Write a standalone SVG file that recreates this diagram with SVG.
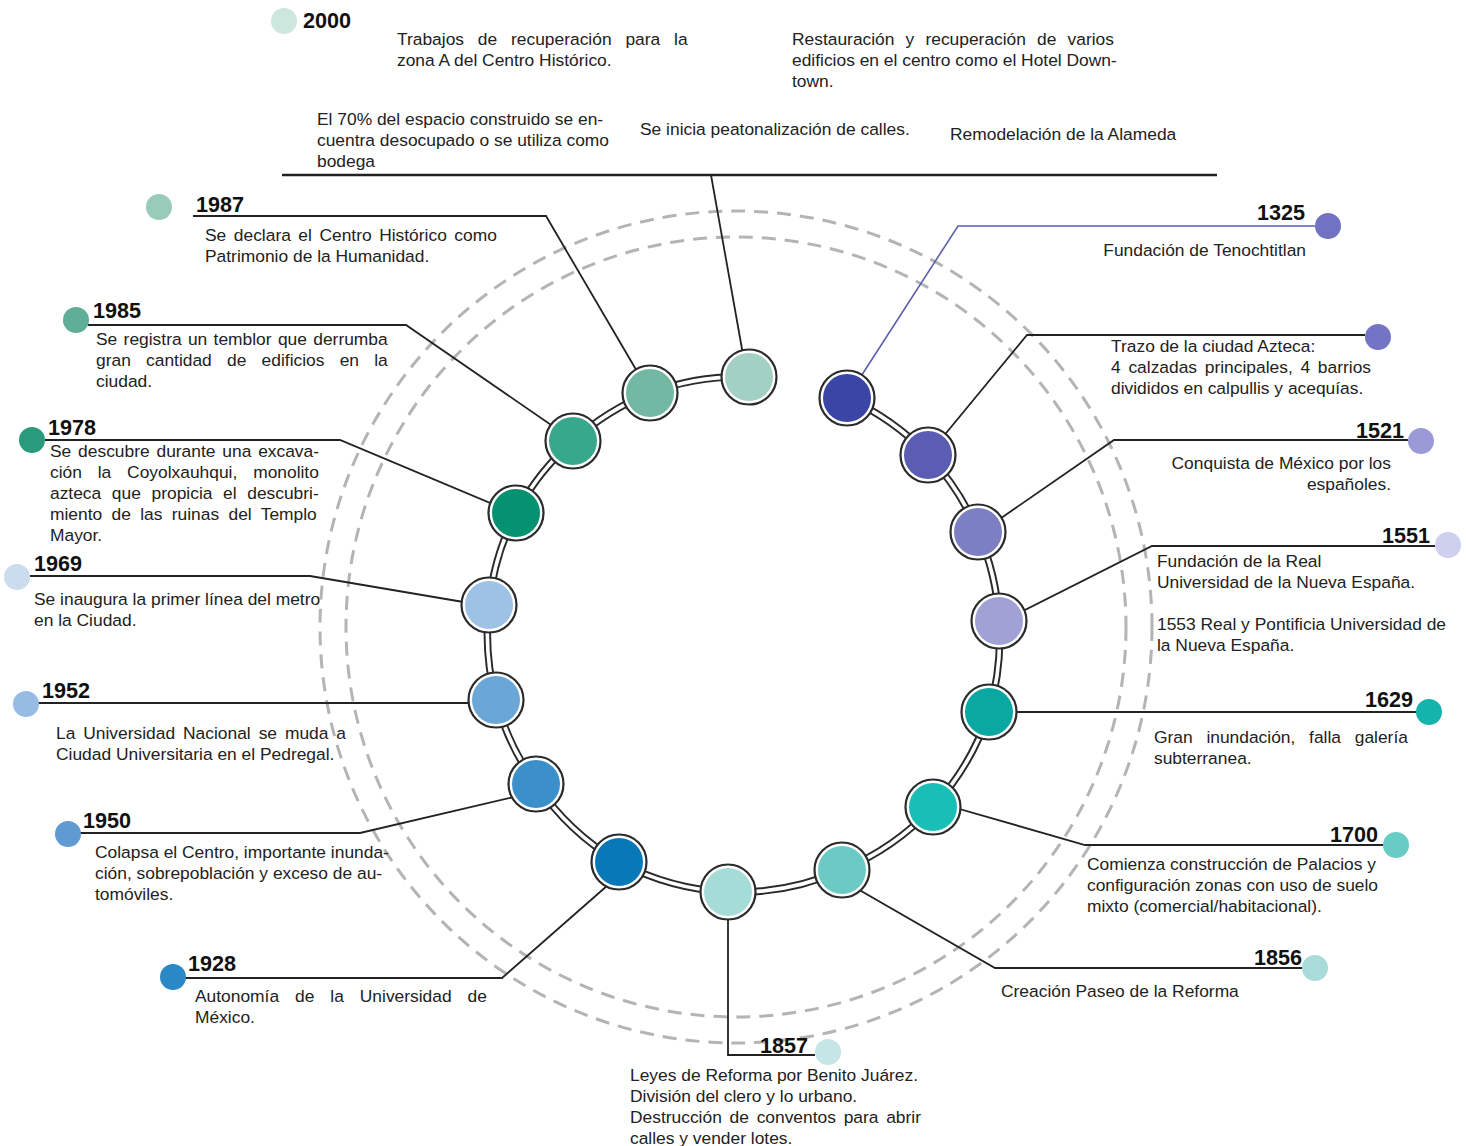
<svg xmlns="http://www.w3.org/2000/svg" width="1466" height="1146" viewBox="0 0 1466 1146">
<style>
.t{font-family:"Liberation Sans",Arial,sans-serif;font-size:17.4px;fill:#222}
.y{font-family:"Liberation Sans",Arial,sans-serif;font-size:21.6px;font-weight:bold;fill:#111}
.e{text-anchor:end}
.ln{fill:none;stroke:#222;stroke-width:1.8}
.dash{fill:none;stroke:#b4b4b4;stroke-width:3;stroke-dasharray:14 9}
.rg{fill:#fff;stroke:#2a2a2a;stroke-width:2.2}
</style>
<rect width="1466" height="1146" fill="#fff"/>
<g id="guides">
<circle class="dash" cx="736" cy="627" r="416"/>
<circle class="dash" cx="736" cy="627" r="390"/>
</g>
<g id="connectors">
<path id="ring" d="M847 398 A257 257 0 0 1 928 455 A257 257 0 0 1 978 532 A257 257 0 0 1 999 621 A257 257 0 0 1 989 712 A257 257 0 0 1 933 807 A257 257 0 0 1 842 870 A257 257 0 0 1 728 892 A257 257 0 0 1 619 862 A257 257 0 0 1 536 784 A257 257 0 0 1 496 700 A257 257 0 0 1 489 605 A257 257 0 0 1 516 513 A257 257 0 0 1 573 441 A257 257 0 0 1 650 393 A257 257 0 0 1 749 377" fill="none" stroke="#2a2a2a" stroke-width="7.5"/>
<path d="M847 398 A257 257 0 0 1 928 455 A257 257 0 0 1 978 532 A257 257 0 0 1 999 621 A257 257 0 0 1 989 712 A257 257 0 0 1 933 807 A257 257 0 0 1 842 870 A257 257 0 0 1 728 892 A257 257 0 0 1 619 862 A257 257 0 0 1 536 784 A257 257 0 0 1 496 700 A257 257 0 0 1 489 605 A257 257 0 0 1 516 513 A257 257 0 0 1 573 441 A257 257 0 0 1 650 393 A257 257 0 0 1 749 377" fill="none" stroke="#fff" stroke-width="3.6"/>
<line x1="282" y1="175" x2="1217" y2="175" stroke="#222" stroke-width="2.6"/>
<polyline class="ln" points="747,377 711,175"/>
<polyline class="ln" points="648,390 546,216 193,216"/>
<polyline class="ln" points="570,438 406,325 88,325"/>
<polyline class="ln" points="514,513 340,440 45,440"/>
<polyline class="ln" points="487,606 310,576 30,576"/>
<polyline class="ln" points="494,703 38,703"/>
<polyline class="ln" points="518,796 360,833 80,833"/>
<polyline class="ln" points="608,885 502,978 185,978"/>
<polyline class="ln" points="728,892 728,1055 815,1055"/>
<polyline class="ln" points="842,880 995,968 1303,968"/>
<polyline class="ln" points="935,802 1085,845 1383,845"/>
<polyline class="ln" points="989,712 1418,712"/>
<polyline class="ln" points="999,623 1152,546 1435,546"/>
<polyline class="ln" points="978,534 1114,440 1408,440"/>
<polyline class="ln" points="928,455 1027,335 1365,335"/>
<polyline points="847,398 958,226 1316,226" fill="none" stroke="#5b5fae" stroke-width="1.6"/>
</g>
<g id="n1325">
<circle class="rg" cx="847" cy="398" r="27.5"/><circle cx="847" cy="398" r="24" fill="#3a45a5"/>
<circle cx="1328" cy="226" r="13" fill="#7272c2"/>
<text class="y e" x="1305" y="220">1325</text>
<text class="t e" x="1306" y="256">Fundación de Tenochtitlan</text>
</g>
<g id="n1325b">
<circle class="rg" cx="928" cy="455" r="27.5"/><circle cx="928" cy="455" r="24" fill="#5a5db2"/>
<circle cx="1378" cy="337" r="13" fill="#7474c4"/>
<text class="t" x="1111" y="352">Trazo de la ciudad Azteca:</text>
<text class="t" x="1111" y="373" word-spacing="2.9">4 calzadas principales, 4 barrios</text>
<text class="t" x="1111" y="394">divididos en calpullis y acequías.</text>
</g>
<g id="n1521">
<circle class="rg" cx="978" cy="532" r="27.5"/><circle cx="978" cy="532" r="24" fill="#7c7fc2"/>
<circle cx="1421" cy="441" r="13" fill="#9a9ad6"/>
<text class="y e" x="1404" y="438">1521</text>
<text class="t e" x="1391" y="469">Conquista de México por los</text>
<text class="t e" x="1391" y="490">españoles.</text>
</g>
<g id="n1551">
<circle class="rg" cx="999" cy="621" r="27.5"/><circle cx="999" cy="621" r="24" fill="#a0a2d6"/>
<circle cx="1448" cy="545" r="13" fill="#cfcfee"/>
<text class="y e" x="1430" y="543">1551</text>
<text class="t" x="1157" y="567">Fundación de la Real</text>
<text class="t" x="1157" y="588">Universidad de la Nueva España.</text>
<text class="t" x="1157" y="630">1553 Real y Pontificia Universidad de</text>
<text class="t" x="1157" y="651">la Nueva España.</text>
</g>
<g id="n1629">
<circle class="rg" cx="989" cy="712" r="27.5"/><circle cx="989" cy="712" r="24" fill="#0aa8a0"/>
<circle cx="1429" cy="712" r="13" fill="#14b4ac"/>
<text class="y e" x="1413" y="707">1629</text>
<text class="t" x="1154" y="743" word-spacing="8.9">Gran inundación, falla galería</text>
<text class="t" x="1154" y="764">subterranea.</text>
</g>
<g id="n1700">
<circle class="rg" cx="933" cy="807" r="27.5"/><circle cx="933" cy="807" r="24" fill="#19beb6"/>
<circle cx="1396" cy="845" r="13" fill="#66ccc4"/>
<text class="y e" x="1378" y="842">1700</text>
<text class="t" x="1087" y="870">Comienza construcción de Palacios y</text>
<text class="t" x="1087" y="891">configuración zonas con uso de suelo</text>
<text class="t" x="1087" y="912">mixto (comercial/habitacional).</text>
</g>
<g id="n1856">
<circle class="rg" cx="842" cy="870" r="27.5"/><circle cx="842" cy="870" r="24" fill="#6ccac4"/>
<circle cx="1315" cy="968" r="13" fill="#a8dcd8"/>
<text class="y e" x="1302" y="965">1856</text>
<text class="t" x="1001" y="997">Creación Paseo de la Reforma</text>
</g>
<g id="n1857">
<circle class="rg" cx="728" cy="892" r="27.5"/><circle cx="728" cy="892" r="24" fill="#a5dcd8"/>
<circle cx="828" cy="1052" r="13" fill="#c5e6e6"/>
<text class="y e" x="808" y="1053">1857</text>
<text class="t" x="630" y="1081">Leyes de Reforma por Benito Juárez.</text>
<text class="t" x="630" y="1102">División del clero y lo urbano.</text>
<text class="t" x="630" y="1123" word-spacing="2.9">Destrucción de conventos para abrir</text>
<text class="t" x="630" y="1144">calles y vender lotes.</text>
</g>
<g id="n1928">
<circle class="rg" cx="619" cy="862" r="27.5"/><circle cx="619" cy="862" r="24" fill="#0878b8"/>
<circle cx="173" cy="977" r="13" fill="#2a88c6"/>
<text class="y" x="188" y="971">1928</text>
<text class="t" x="195" y="1002" word-spacing="11.1">Autonomía de la Universidad de</text>
<text class="t" x="195" y="1023">México.</text>
</g>
<g id="n1950">
<circle class="rg" cx="536" cy="784" r="27.5"/><circle cx="536" cy="784" r="24" fill="#3c90ca"/>
<circle cx="68" cy="834" r="13" fill="#5f9bd2"/>
<text class="y" x="83" y="828">1950</text>
<text class="t" x="95" y="858">Colapsa el Centro, importante inunda-</text>
<text class="t" x="95" y="879">ción, sobrepoblación y exceso de au-</text>
<text class="t" x="95" y="900">tomóviles.</text>
</g>
<g id="n1952">
<circle class="rg" cx="496" cy="700" r="27.5"/><circle cx="496" cy="700" r="24" fill="#6aa6d6"/>
<circle cx="26" cy="704" r="13" fill="#96bce4"/>
<text class="y" x="42" y="698">1952</text>
<text class="t" x="56" y="739" word-spacing="3.1">La Universidad Nacional se muda a</text>
<text class="t" x="56" y="760">Ciudad Universitaria en el Pedregal.</text>
</g>
<g id="n1969">
<circle class="rg" cx="489" cy="605" r="27.5"/><circle cx="489" cy="605" r="24" fill="#9ec2e6"/>
<circle cx="17" cy="577" r="13" fill="#cadcee"/>
<text class="y" x="34" y="571">1969</text>
<text class="t" x="34" y="605">Se inaugura la primer línea del metro</text>
<text class="t" x="34" y="626">en la Ciudad.</text>
</g>
<g id="n1978">
<circle class="rg" cx="516" cy="513" r="27.5"/><circle cx="516" cy="513" r="24" fill="#049270"/>
<circle cx="32" cy="440" r="13" fill="#2a9a7c"/>
<text class="y" x="48" y="435">1978</text>
<text class="t" x="50" y="457" word-spacing="2">Se descubre durante una excava-</text>
<text class="t" x="50" y="478" word-spacing="11">ción la Coyolxauhqui, monolito</text>
<text class="t" x="50" y="499" word-spacing="5.8">azteca que propicia el descubri-</text>
<text class="t" x="50" y="520" word-spacing="4.5">miento de las ruinas del Templo</text>
<text class="t" x="50" y="541">Mayor.</text>
</g>
<g id="n1985">
<circle class="rg" cx="573" cy="441" r="27.5"/><circle cx="573" cy="441" r="24" fill="#38a88c"/>
<circle cx="76" cy="320" r="13" fill="#5fae96"/>
<text class="y" x="93" y="318">1985</text>
<text class="t" x="96" y="345" word-spacing="1.5">Se registra un temblor que derrumba</text>
<text class="t" x="96" y="366" word-spacing="10.4">gran cantidad de edificios en la</text>
<text class="t" x="96" y="387">ciudad.</text>
</g>
<g id="n1987">
<circle class="rg" cx="650" cy="393" r="27.5"/><circle cx="650" cy="393" r="24" fill="#72b8a2"/>
<circle cx="159" cy="207" r="13" fill="#98ccb8"/>
<text class="y" x="196" y="212">1987</text>
<text class="t" x="205" y="241" word-spacing="2.7">Se declara el Centro Histórico como</text>
<text class="t" x="205" y="262">Patrimonio de la Humanidad.</text>
</g>
<g id="n2000">
<circle class="rg" cx="749" cy="377" r="27.5"/><circle cx="749" cy="377" r="24" fill="#a2d0c2"/>
<circle cx="284" cy="21" r="13" fill="#cde6de"/>
<text class="y" x="303" y="28">2000</text>
<text class="t" x="397" y="45" word-spacing="9">Trabajos de recuperación para la</text>
<text class="t" x="397" y="66">zona A del Centro Histórico.</text>
<text class="t" x="792" y="45" word-spacing="6.3">Restauración y recuperación de varios</text>
<text class="t" x="792" y="66">edificios en el centro como el Hotel Down-</text>
<text class="t" x="792" y="87">town.</text>
<text class="t" x="317" y="125">El 70% del espacio construido se en-</text>
<text class="t" x="317" y="146">cuentra desocupado o se utiliza como</text>
<text class="t" x="317" y="167">bodega</text>
<text class="t" x="640" y="135">Se inicia peatonalización de calles.</text>
<text class="t" x="950" y="140">Remodelación de la Alameda</text>
</g>
</svg>
